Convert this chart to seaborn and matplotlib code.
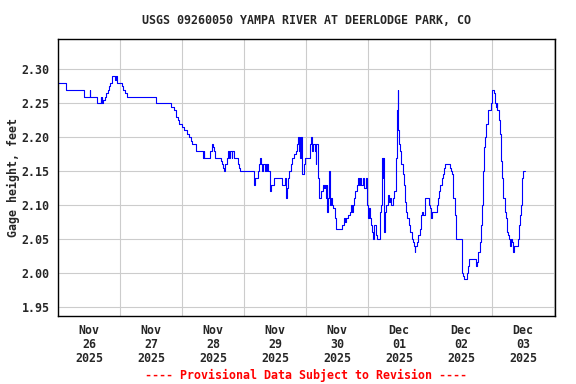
import pandas as pd
import matplotlib
matplotlib.use("Agg")
import matplotlib.pyplot as plt
import matplotlib.dates as mdates
import seaborn as sns

# hours since 2025-11-26 00:00 and gage height (ft) (step series)
hours = [
    0.0, 3.2, 9.9, 12.2, 12.4, 15.1, 16.6, 16.8, 17.0, 17.2, 17.5, 18.0, 18.6, 19.2,
    19.8, 20.3, 20.8, 22.2, 22.4, 22.7, 24.7, 25.3, 26.1, 26.6, 37.9, 38.1, 43.9, 44.9,
    45.7, 46.3, 46.8, 48.0, 48.6, 50.1, 50.6, 51.4, 51.9, 53.5, 56.1, 56.3, 56.6, 59.0,
    59.6, 59.9, 60.2, 60.8, 63.0, 63.5, 64.0, 64.4, 64.8, 65.3, 65.8, 66.2, 66.7, 67.2,
    67.5, 68.0, 69.7, 70.1, 70.5, 75.9, 76.4, 77.2, 77.7, 78.2, 78.6, 79.0, 79.5, 80.0,
    80.3, 80.8, 81.0, 81.3, 82.1, 82.6, 83.4, 86.5, 87.7, 88.1, 88.6, 89.0, 89.5, 90.1,
    90.6, 91.3, 92.0, 92.6, 92.9, 93.2, 93.5, 93.8, 94.2, 94.5, 95.0, 95.5, 97.4, 97.9,
    98.3, 98.8, 99.4, 99.7, 100.0, 100.6, 100.8, 101.9, 102.5, 103.0, 103.4, 103.6, 103.9,
    104.1, 104.4, 104.7, 104.9, 105.1, 105.5, 106.0, 106.5, 107.1, 107.4, 110.0, 110.5,
    111.0, 111.6, 112.3, 112.8, 113.2, 113.6, 114.2, 114.6, 115.1, 115.6, 116.1, 116.6,
    116.9, 117.4, 117.9, 118.5, 119.0, 119.7, 120.0, 120.4, 120.8, 121.3, 121.5, 121.9,
    122.3, 123.1, 123.4, 124.6, 124.9, 125.2, 125.4, 125.6, 125.8, 126.2, 126.5, 127.0,
    127.5, 128.0, 128.5, 129.0, 129.7, 130.1, 130.6, 130.9, 131.1, 131.4, 131.7, 131.9,
    132.4, 132.6, 132.9, 133.4, 134.0, 134.2, 134.7, 135.2, 135.7, 136.3, 136.8, 137.3,
    137.8, 138.1, 138.3, 138.8, 139.4, 139.9, 140.4, 140.6, 140.9, 141.4, 141.9, 142.2,
    143.5, 144.0, 144.4, 144.9, 146.5, 147.0, 147.5, 148.0, 148.5, 149.0, 149.5, 149.9,
    151.6, 152.0, 152.4, 152.9, 153.6, 154.0, 156.4, 156.8, 157.2, 158.1, 158.5, 159.1,
    161.9, 162.3, 162.7, 163.2, 163.5, 163.9, 164.3, 164.6, 165.0, 165.4, 165.8, 166.2,
    167.7, 168.1, 168.6, 169.0, 169.4, 169.7, 170.0, 170.6, 171.0, 171.4, 171.7, 172.3,
    172.8, 173.3, 173.7, 174.1, 174.5, 174.8, 175.2, 175.6, 176.1, 176.5, 177.8, 178.2,
    178.6, 179.0, 179.4, 179.7, 180.1, 180.6,
]
gage_ft = [
    2.28, 2.27, 2.26, 2.27, 2.26, 2.25, 2.26, 2.25, 2.26, 2.25, 2.255, 2.26, 2.265, 2.27,
    2.275, 2.28, 2.29, 2.285, 2.29, 2.28, 2.275, 2.27, 2.265, 2.26, 2.255, 2.25, 2.245, 2.24,
    2.23, 2.225, 2.22, 2.215, 2.21, 2.205, 2.20, 2.195, 2.19, 2.18, 2.17, 2.18, 2.17, 2.18,
    2.19, 2.185, 2.18, 2.17, 2.165, 2.16, 2.155, 2.15, 2.16, 2.17, 2.18, 2.17, 2.18, 2.17,
    2.18, 2.17, 2.16, 2.155, 2.15, 2.13, 2.14, 2.15, 2.16, 2.17, 2.16, 2.15, 2.16, 2.15,
    2.16, 2.15, 2.16, 2.15, 2.12, 2.13, 2.14, 2.13, 2.14, 2.11, 2.125, 2.14, 2.15, 2.16,
    2.17, 2.175, 2.18, 2.19, 2.20, 2.18, 2.20, 2.17, 2.20, 2.145, 2.16, 2.17, 2.19, 2.20,
    2.18, 2.19, 2.18, 2.16, 2.19, 2.14, 2.11, 2.12, 2.13, 2.125, 2.13, 2.11, 2.13,
    2.09, 2.11, 2.13, 2.15, 2.10, 2.11, 2.10, 2.095, 2.08, 2.065, 2.07, 2.08,
    2.075, 2.08, 2.085, 2.09, 2.10, 2.09, 2.10, 2.11, 2.12, 2.13, 2.14, 2.13,
    2.14, 2.13, 2.14, 2.125, 2.14, 2.10, 2.08, 2.095, 2.08, 2.07, 2.06, 2.05,
    2.07, 2.055, 2.05, 2.09, 2.10, 2.14, 2.17, 2.14, 2.17, 2.06, 2.09, 2.10,
    2.115, 2.105, 2.11, 2.10, 2.11, 2.12, 2.13, 2.17, 2.24, 2.27, 2.21, 2.19,
    2.18, 2.17, 2.16, 2.145, 2.13, 2.105, 2.09, 2.08, 2.07, 2.06, 2.05, 2.045,
    2.04, 2.03, 2.04, 2.045, 2.055, 2.065, 2.08, 2.085, 2.09, 2.085, 2.10, 2.11,
    2.10, 2.095, 2.08, 2.09, 2.10, 2.11, 2.12, 2.13, 2.14, 2.145, 2.155, 2.16,
    2.155, 2.15, 2.145, 2.11, 2.085, 2.05, 2.00, 1.995, 1.99, 2.00, 2.01, 2.02,
    2.01, 2.015, 2.03, 2.045, 2.07, 2.10, 2.13, 2.15, 2.185, 2.20, 2.22, 2.24,
    2.25, 2.27, 2.265, 2.25, 2.245, 2.25, 2.24, 2.225, 2.205, 2.165, 2.14, 2.11,
    2.09, 2.08, 2.06, 2.055, 2.05, 2.04, 2.05, 2.045, 2.03, 2.04, 2.05, 2.07,
    2.085, 2.10, 2.11, 2.14, 2.15, 2.15,
]
y_ticks = [1.95, 2.00, 2.05, 2.10, 2.15, 2.20, 2.25, 2.30]

start = pd.Timestamp("2025-11-26")
df = pd.DataFrame({
    "time": start + pd.to_timedelta(hours, unit="h"),
    "gage": gage_ft,
})

sns.set_theme(style="whitegrid", rc={
    "grid.color": "#cccccc",
    "grid.linewidth": 0.8,
    "axes.edgecolor": "black",
    "axes.linewidth": 1.0,
})
plt.rcParams["font.family"] = ["DejaVu Sans Mono"]
plt.rcParams["font.weight"] = "bold"

fig = plt.figure(figsize=(5.76, 3.84), dpi=100)
ax = fig.add_axes([0.1007, 0.1771, 0.8628, 0.7213])

sns.lineplot(data=df, x="time", y="gage", ax=ax, color="#0000ff", linewidth=0.8,
             drawstyle="steps-post", estimator=None, sort=False)

ax.set_xlim(start, start + pd.Timedelta(hours=192.3))
ax.set_ylim(1.936, 2.345)
ax.set_yticks(y_ticks)
ax.set_yticklabels([f"{v:.2f}" for v in y_ticks])

# gridlines at midnight, labels at noon
ax.xaxis.set_major_locator(mdates.DayLocator())
ax.xaxis.set_major_formatter(plt.NullFormatter())
ax.xaxis.set_minor_locator(mdates.HourLocator(byhour=12))
ax.xaxis.set_minor_formatter(mdates.DateFormatter("%b\n%d\n%Y"))
ax.grid(True, which="major", axis="both")
ax.grid(False, which="minor")
ax.tick_params(axis="x", which="both", length=0, pad=6, labelsize=8.4)
ax.tick_params(axis="y", length=0, pad=6, labelsize=8.4)

ax.set_xlabel("")
ax.set_ylabel("Gage height, feet", fontsize=8.4, fontweight="bold", labelpad=1)
ax.set_title("USGS 09260050 YAMPA RIVER AT DEERLODGE PARK, CO",
             fontsize=8.4, fontweight="bold", pad=11)

fig.canvas.draw()
for lbl in ax.get_xticklabels(minor=True):
    lbl.set_linespacing(1.1)

fig.text(0.531, 0.023, "---- Provisional Data Subject to Revision ----",
         color="red", fontsize=8.4, fontweight="bold", ha="center", va="center")

fig.savefig("out.png", dpi=100)
